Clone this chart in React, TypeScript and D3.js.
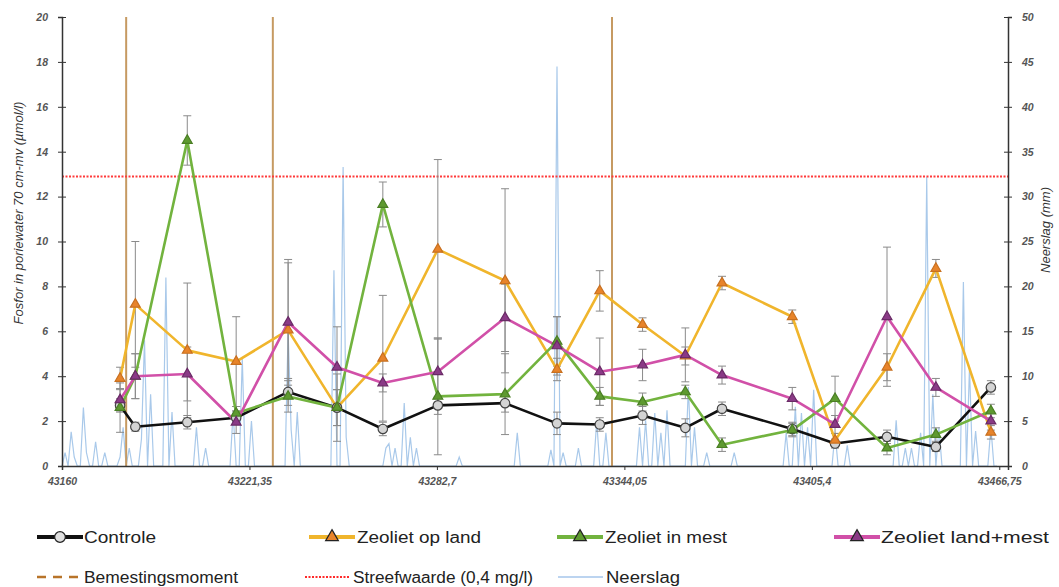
import React from "react";
import * as d3 from "d3";

// meetdata (excel datumnummers)
const sampleDates = [43179, 43184, 43201, 43217, 43234, 43250, 43265, 43283, 43305, 43322, 43336, 43350, 43364, 43376, 43399, 43413, 43430, 43446, 43464];

const controle = [2.7, 1.75, 1.95, 2.15, 3.3, 2.6, 1.65, 2.7, 2.8, 1.9, 1.85, 2.25, 1.7, 2.55, 1.65, 1.0, 1.3, 0.85, 3.5];
const opLand = [3.9, 7.2, 5.15, 4.65, 6.05, 2.6, 4.8, 9.65, 8.25, 4.3, 7.8, 6.3, 4.9, 8.15, 6.65, 1.15, 4.4, 8.8, 1.5];
const inMest = [2.6, 4.0, 14.5, 2.35, 3.1, 2.6, 11.65, 3.1, 3.2, 5.55, 3.1, 2.85, 3.3, 0.95, 1.6, 3.0, 0.8, 1.4, 2.45];
const landMest = [2.95, 4.0, 4.1, 1.95, 6.4, 4.4, 3.7, 4.2, 6.6, 5.35, 4.2, 4.5, 4.95, 4.05, 3.0, 1.85, 6.65, 3.5, 2.0];

const controleSd = [0.3, 0.2, 0.3, 0.3, 0.6, 0.8, 0.3, 0.4, 0.4, 0.5, 0.3, 0.4, 0.4, 0.3, 0.3, 0.2, 0.3, 0.2, 0.3];
const opLandSd = [0.5, 2.8, 3.0, 2.0, 3.0, 1.5, 2.8, 4.0, 4.1, 0.5, 0.9, 0.3, 0.4, 0.3, 0.3, 0.3, 0.6, 0.4, 0.3];
const inMestSd = [1.1, 1.0, 1.1, 0.3, 0.7, 0.8, 1.0, 2.6, 1.8, 1.1, 0.4, 0.4, 0.3, 0.3, 0.3, 1.0, 0.3, 0.3, 0.3];
const landMestSd = [0.5, 1.0, 1.2, 0.5, 2.8, 1.8, 0.4, 1.5, 1.5, 1.3, 1.5, 0.7, 1.2, 0.4, 0.5, 0.4, 3.1, 0.4, 0.4];

// dagelijkse neerslag (mm) vanaf 43160
const rainStart = 43160;
const neerslag = [
  0, 1.5, 0, 3.8, 1.0, 0, 0, 6.5, 1.5, 0, 0, 2.7, 0, 0, 1.5, 0, 0, 0, 0, 1.0,
  4.3, 0, 2.0, 0, 0, 0, 3.0, 14.0, 0, 8.0, 0, 0, 0, 0, 21.0, 0, 6.0, 0, 0, 0,
  0, 0, 0, 0, 4.3, 0, 0, 2.0, 0, 0, 0, 0, 0, 0, 0, 0, 6.0, 0, 0, 12.0,
  0, 0, 5.0, 0, 0, 0, 0, 0, 0, 0, 0, 0, 0, 0, 15.0, 4.0, 0, 6.0, 0, 0,
  0, 0, 0, 0, 0, 0, 0, 0, 0, 21.8, 0, 0, 33.3, 3.2, 0, 0, 0, 0, 0, 0,
  0, 0, 0, 0, 0, 0, 2.0, 2.5, 0, 2.0, 0, 0, 7.0, 0, 3.2, 0, 2.0, 0, 0, 0,
  0, 0, 0, 0, 0, 0, 0, 0, 0, 0, 1.0, 0, 0, 0, 0, 0, 0, 0, 0, 0,
  0, 0, 0, 0, 0, 0, 0, 0, 0, 3.7, 0, 0, 0, 0, 0, 0, 0, 0, 0, 0,
  1.8, 0, 44.5, 0, 1.5, 0, 0, 0, 0, 2.0, 0, 0, 0, 0, 0, 5.0, 0, 0, 3.7, 0,
  0, 0, 0, 0, 0, 0, 0, 0, 0, 4.3, 0, 5.1, 0, 0, 5.9, 0, 3.7, 0, 6.2, 0,
  0, 0, 0, 0, 0, 8.8, 0, 4.3, 0, 0, 0, 1.5, 0, 0, 0, 0, 0, 0, 0, 0,
  1.5, 0, 0, 0, 0, 0, 0, 0, 0, 0, 0, 0, 0, 0, 0, 0, 0, 3.7, 0, 0,
  6.6, 0, 5.9, 0, 4.3, 0, 8.5, 0, 0, 0, 0, 0, 0, 3.7, 0, 0, 0, 2.3, 0, 0,
  0, 0, 0, 0, 0, 0, 0, 0, 0, 0, 0, 0, 0, 5.1, 0, 0, 2.0, 0, 2.0, 0,
  0, 3.7, 0, 32.2, 0, 8.0, 0, 4.3, 0, 0, 0, 0, 0, 0, 0, 20.5, 0, 11.0, 0, 3.9,
  0, 0, 0, 0, 4.3, 0, 0
];

const bemestingDates = [43181, 43229, 43340];
const streefwaarde = 12.9;

const xTicks = [43160, 43221.35, 43282.7, 43344.05, 43405.4, 43466.75];
const xTickLabels = ["43160", "43221,35", "43282,7", "43344,05", "43405,4", "43466,75"];
const yLeftTicks = [0, 2, 4, 6, 8, 10, 12, 14, 16, 18, 20];
const yRightTicks = [0, 5, 10, 15, 20, 25, 30, 35, 40, 45, 50];

const series = [
  { name: "Controle", values: controle, sd: controleSd, line: "#111111", fill: "#d4d4d4", stroke: "#444444", shape: "circle" },
  { name: "Zeoliet op land", values: opLand, sd: opLandSd, line: "#f0b52c", fill: "#e8842a", stroke: "#c87020", shape: "triangle" },
  { name: "Zeoliet in mest", values: inMest, sd: inMestSd, line: "#72b33e", fill: "#5e9a30", stroke: "#4a7e24", shape: "triangle" },
  { name: "Zeoliet land+mest", values: landMest, sd: landMestSd, line: "#d150a8", fill: "#8a3a86", stroke: "#6a2a66", shape: "triangle" },
];

const W = 1059, H = 587;
const left = 62, right = 1008, top = 17, bottom = 466;

const App = () => {
  const svgRef = React.useRef<SVGSVGElement>(null);

  React.useEffect(() => {
    const svg = d3.select(svgRef.current);
    svg.selectAll("*").remove();

    const x = d3.scaleLinear().domain([43160, 43469.6]).range([left, right]);
    const yL = d3.scaleLinear().domain([0, 20]).range([bottom, top]);
    const yR = d3.scaleLinear().domain([0, 50]).range([bottom, top]);
    const labelFont = "'Liberation Sans', Arial, sans-serif";

    // neerslag
    const rainLine = d3.line<number>()
      .x((d, i) => x(rainStart + i))
      .y(d => yR(d));
    svg.append("path")
      .datum(neerslag)
      .attr("d", rainLine)
      .attr("fill", "none")
      .attr("stroke", "#a9c9ea")
      .attr("stroke-width", 1.2);

    // bemestingsmomenten
    svg.append("g")
      .selectAll("line")
      .data(bemestingDates)
      .join("line")
        .attr("x1", d => x(d)).attr("x2", d => x(d))
        .attr("y1", top).attr("y2", bottom)
        .attr("stroke", "#c69a62")
        .attr("stroke-width", 2);

    // streefwaarde
    svg.append("line")
      .attr("x1", left).attr("x2", right)
      .attr("y1", yL(streefwaarde)).attr("y2", yL(streefwaarde))
      .attr("stroke", "#ff3a3a")
      .attr("stroke-width", 2)
      .attr("stroke-dasharray", "2,1.5");

    // foutbalken
    const eb = svg.append("g").attr("stroke", "#8a8a8a").attr("stroke-width", 1);
    series.forEach(s => {
      s.values.forEach((v, i) => {
        const cx = x(sampleDates[i]);
        const y1 = yL(v + s.sd[i]), y2 = yL(Math.max(0, v - s.sd[i]));
        eb.append("line").attr("x1", cx).attr("x2", cx).attr("y1", y1).attr("y2", y2);
        eb.append("line").attr("x1", cx - 4).attr("x2", cx + 4).attr("y1", y1).attr("y2", y1);
        eb.append("line").attr("x1", cx - 4).attr("x2", cx + 4).attr("y1", y2).attr("y2", y2);
      });
    });

    // lijnen + markers
    const line = d3.line<number>()
      .x((d, i) => x(sampleDates[i]))
      .y(d => yL(d));
    const tri = d3.symbol().type(d3.symbolTriangle).size(42);
    const circ = d3.symbol().type(d3.symbolCircle).size(70);

    series.forEach(s => {
      svg.append("path")
        .datum(s.values)
        .attr("d", line)
        .attr("fill", "none")
        .attr("stroke", s.line)
        .attr("stroke-width", 2.6)
        .attr("stroke-linejoin", "round");
    });
    series.forEach(s => {
      svg.append("g")
        .selectAll("path")
        .data(s.values)
        .join("path")
          .attr("d", s.shape === "circle" ? circ() : tri())
          .attr("transform", (d, i) => `translate(${x(sampleDates[i])},${yL(d)})`)
          .attr("fill", s.fill)
          .attr("stroke", s.stroke)
          .attr("stroke-width", 1.2);
    });

    const styleTicks = (g: any) => g.selectAll("text")
      .attr("font-family", labelFont).attr("font-style", "italic").attr("font-weight", "bold")
      .attr("font-size", 10.5).attr("fill", "#555");

    // assen
    svg.append("g")
      .attr("transform", `translate(${left},0)`)
      .call(d3.axisLeft(yL).tickValues(yLeftTicks).tickSize(4).tickPadding(10).tickFormat(d3.format("d")))
      .call(g => g.select(".domain").attr("stroke", "#333").attr("stroke-width", 1.5))
      .call(g => g.selectAll(".tick line").attr("stroke", "#333").attr("x2", 4).attr("x1", -4))
      .call(styleTicks);

    svg.append("g")
      .attr("transform", `translate(${right},0)`)
      .call(d3.axisRight(yR).tickValues(yRightTicks).tickSize(4).tickPadding(10).tickFormat(d3.format("d")))
      .call(g => g.select(".domain").attr("stroke", "#333").attr("stroke-width", 1.5))
      .call(g => g.selectAll(".tick line").attr("stroke", "#333").attr("x2", 4).attr("x1", -4))
      .call(styleTicks);

    svg.append("g")
      .attr("transform", `translate(0,${bottom})`)
      .call(d3.axisBottom(x).tickValues(xTicks).tickSize(4).tickPadding(8)
        .tickFormat((d, i) => xTickLabels[i]))
      .call(g => g.select(".domain").attr("stroke", "#333").attr("stroke-width", 1.5))
      .call(g => g.selectAll(".tick line").attr("stroke", "#333"))
      .call(styleTicks);

    // astitels
    svg.append("text")
      .attr("transform", `translate(23,213) rotate(-90)`)
      .attr("text-anchor", "middle")
      .attr("font-family", labelFont).attr("font-style", "italic")
      .attr("font-size", 13).attr("fill", "#333")
      .text("Fosfor in poriewater 70 cm-mv (µmol/l)");
    svg.append("text")
      .attr("transform", `translate(1050,230) rotate(-90)`)
      .attr("text-anchor", "middle")
      .attr("font-family", labelFont).attr("font-style", "italic")
      .attr("font-size", 13).attr("fill", "#333")
      .text("Neerslag (mm)");

    // legenda
    const legendFont = "'Liberation Sans Narrow', 'Liberation Sans', Arial, sans-serif";
    const leg = svg.append("g");
    const row1 = 537, row2 = 577;
    const legendItems = [
      { s: series[0], lx: 37, tx: 84, tw: 72, y: row1 },
      { s: series[1], lx: 309, tx: 357, tw: 124, y: row1 },
      { s: series[2], lx: 557, tx: 605, tw: 122, y: row1 },
      { s: series[3], lx: 834, tx: 881, tw: 168, y: row1 },
    ];
    const legText = (xx: number, yy: number, tw: number, txt: string) =>
      leg.append("text").attr("x", xx).attr("y", yy + 6)
        .attr("font-family", legendFont).attr("font-size", 16).attr("fill", "#222")
        .attr("textLength", tw).attr("lengthAdjust", "spacingAndGlyphs")
        .text(txt);
    legendItems.forEach(it => {
      leg.append("line").attr("x1", it.lx).attr("x2", it.lx + 46).attr("y1", it.y).attr("y2", it.y)
        .attr("stroke", it.s.line).attr("stroke-width", 4);
      leg.append("path")
        .attr("d", it.s.shape === "circle" ? d3.symbol().type(d3.symbolCircle).size(90)() : d3.symbol().type(d3.symbolTriangle).size(70)())
        .attr("transform", `translate(${it.lx + 23},${it.y})`)
        .attr("fill", it.s.shape === "circle" ? "#e0e0e0" : it.s.fill)
        .attr("stroke", "#222").attr("stroke-width", 1.2);
      legText(it.tx, it.y, it.tw, it.s.name);
    });
    leg.append("line").attr("x1", 37).attr("x2", 81).attr("y1", row2).attr("y2", row2)
      .attr("stroke", "#b8742a").attr("stroke-width", 2.5).attr("stroke-dasharray", "9,7");
    legText(84, row2, 154, "Bemestingsmoment");
    leg.append("line").attr("x1", 305).attr("x2", 350).attr("y1", row2).attr("y2", row2)
      .attr("stroke", "#ff2a2a").attr("stroke-width", 2).attr("stroke-dasharray", "2,1.5");
    legText(353, row2, 180, "Streefwaarde (0,4 mg/l)");
    leg.append("line").attr("x1", 558).attr("x2", 603).attr("y1", row2).attr("y2", row2)
      .attr("stroke", "#bcd4f0").attr("stroke-width", 2);
    legText(606, row2, 74, "Neerslag");
  }, []);

  return (
    <svg ref={svgRef} width={W} height={H}
      style={{ position: "absolute", left: 0, top: 0, background: "#fff" }} />
  );
};

export default App;
